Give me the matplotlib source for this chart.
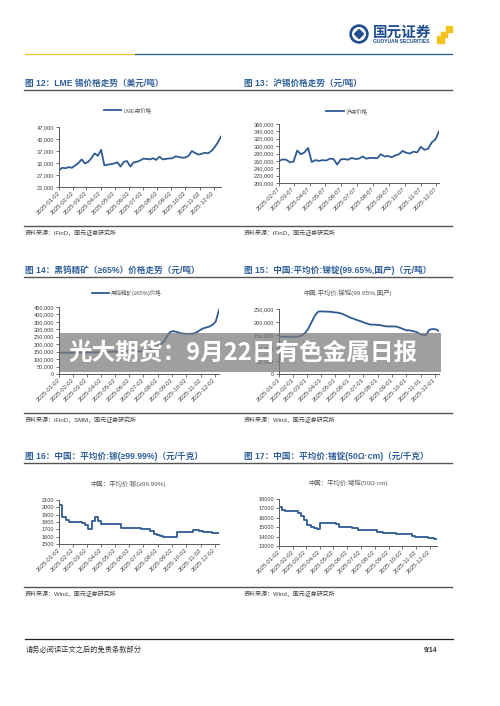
import numpy as np
import pandas as pd
import matplotlib
matplotlib.use('Agg')
import matplotlib.pyplot as plt
import matplotlib.dates as mdates
from matplotlib.ticker import FuncFormatter
from matplotlib.patches import Rectangle, Circle, Polygon

plt.rcParams['font.family'] = ['Liberation Sans', 'Noto Sans CJK SC', 'DejaVu Sans']

W, H = 500, 706
LINE = '#2e5b92'
TITLE = '#30609a'
GREY = '#595959'

# ---- data (weekly readings) ----
lme_tin = [29000, 30000, 29800, 30300, 30000, 31000, 32000, 33500, 31800, 32500,
           34000, 36000, 35000, 37500, 31000, 31300, 31500, 31800, 32300, 30500,
           32500, 32800, 30500, 32200, 32500, 33000, 33800, 33700, 33500, 34000,
           33300, 34600, 33500, 33700, 33900, 34000, 34800, 34500, 34200, 34300,
           35000, 37000, 36200, 35500, 35800, 36300, 36000, 37000, 38500, 40500,
           43000]
shfe_tin = [260000, 264000, 263000, 256000, 258000, 288000, 278000, 283000, 295000, 257000,
            262000, 260000, 262000, 261000, 266000, 265000, 250000, 264000, 265000, 263000,
            268000, 265000, 266000, 272000, 266000, 268000, 268000, 267000, 278000, 272000,
            273000, 270000, 275000, 278000, 287000, 282000, 280000, 285000, 283000, 298000,
            290000, 293000, 310000, 318000, 340000]
tungsten = [143000, 143000, 143000, 143000, 143000, 143000, 143500, 144000, 144000, 145000,
            145000, 146000, 146000, 147000, 148000, 148000, 149000, 150000, 150000, 151000,
            151000, 152000, 152000, 152000, 152000, 152000, 153000, 156000, 162000, 172000,
            185000, 198000, 215000, 250000, 282000, 288000, 283000, 275000, 272000, 270000,
            270000, 271000, 278000, 292000, 305000, 312000, 318000, 330000, 352000, 430000]
antimony = [143000, 143000, 143000, 143000, 143000, 143000, 144000, 148000, 158000, 175000,
            200000, 225000, 240000, 241000, 240000, 240000, 239000, 237000, 236000, 233000,
            228000, 222000, 216000, 212000, 207000, 203000, 198000, 194000, 190000, 190000,
            189000, 188000, 185000, 183000, 183000, 183000, 182000, 178000, 173000, 168000,
            168000, 165000, 162000, 155000, 150000, 150000, 170000, 173000, 172000, 165000]
gallium = [2030, 1870, 1830, 1800, 1800, 1800, 1800, 1780, 1760, 1700,
           1810, 1870, 1820, 1775, 1775, 1775, 1775, 1775, 1775, 1725,
           1725, 1725, 1725, 1725, 1725, 1710, 1700, 1700, 1680, 1640,
           1625, 1605, 1600, 1600, 1600, 1600, 1660, 1660, 1660, 1660,
           1660, 1690, 1690, 1680, 1660, 1660, 1660, 1650, 1650, 1650]
germanium = [17200, 16800, 16750, 16750, 16750, 16750, 16500, 16200, 15800, 15200,
             15000, 14900, 14850, 15400, 15400, 15400, 15400, 15400, 15300, 15050,
             15000, 15000, 15000, 14900, 14900, 14750, 14750, 14750, 14750, 14750,
             14750, 14500, 14500, 14400, 14400, 14400, 14400, 14280, 14280, 14280,
             14280, 14280, 14100, 14000, 14000, 14000, 13950, 13900, 13850, 13750,
             13700]

fig = plt.figure(figsize=(W / 100, H / 100), dpi=100)
fig.patch.set_facecolor('white')


def comma(v, p):
    return f'{v:,.0f}'


def chart(l, t, r, b, start, vals, ylo, yhi, ystep, ticks, fmt=comma, step=False):
    ax = fig.add_axes([l / W, 1 - b / H, (r - l) / W, (b - t) / H])
    dates = pd.date_range(start, periods=len(vals), freq='7D')
    ax.plot(dates, vals, color=LINE, lw=1.3, drawstyle='steps-post' if step else 'default')
    ax.set_xlim(dates[0], dates[-1])
    ax.set_ylim(ylo, yhi)
    ax.set_yticks(np.arange(ylo, yhi + 1, ystep))
    ax.yaxis.set_major_formatter(FuncFormatter(fmt))
    ax.set_xticks(ticks)
    ax.xaxis.set_major_formatter(mdates.DateFormatter('%Y-%m-%d'))
    for s in ['top', 'right']:
        ax.spines[s].set_visible(False)
    for s in ['left', 'bottom']:
        ax.spines[s].set_color(GREY)
        ax.spines[s].set_linewidth(0.7)
    ax.tick_params(length=2, width=0.6, color=GREY, labelsize=4.1, labelcolor='#404040', pad=1.5)
    ax.tick_params(axis='x', labelsize=4.3, pad=2)
    plt.setp(ax.get_xticklabels(), rotation=45, ha='right', va='center', rotation_mode='anchor')
    ax.patch.set_alpha(0)
    return ax


ticks_02 = pd.date_range('2025-01-01', '2025-12-01', freq='MS') + pd.Timedelta(days=1)
ticks_07 = pd.date_range('2025-02-01', '2025-12-01', freq='MS') + pd.Timedelta(days=6)
ticks_01 = pd.date_range('2025-01-01', '2025-12-01', freq='MS')

chart(59, 127, 221, 187, '2025-01-02', lme_tin, 22000, 47000, 5000, ticks_02)
chart(279, 124, 439, 183, '2025-02-07', shfe_tin, 200000, 360000, 20000, ticks_07)
chart(59, 307, 219, 374, '2025-01-02', tungsten, 0, 450000, 50000, ticks_02)
chart(279, 309, 439, 374, '2025-01-01', antimony, 0, 250000, 50000, ticks_01)
chart(59, 500, 219, 544, '2025-01-02', gallium, 1500, 2100, 100, ticks_02,
      fmt=lambda v, p: f'{v:.0f}', step=True)
chart(279, 499, 437, 546, '2025-01-02', germanium, 13000, 18000, 1000, ticks_02,
      fmt=lambda v, p: f'{v:.0f}', step=True)

# ---- page decorations in pixel coordinates ----
ov = fig.add_axes([0, 0, 1, 1], zorder=10)
ov.set_xlim(0, W)
ov.set_ylim(H, 0)
ov.axis('off')
ov.patch.set_alpha(0)

# header logo
ov.add_patch(Circle((359, 34), 9, color='#1f4e8c'))
ov.add_patch(Circle((359, 34), 6.3, color='white'))
ov.add_patch(Polygon([(359, 29.5), (363.5, 34), (359, 38.5), (354.5, 34)], color='#1f4e8c'))
ov.text(373, 32, '国元证券', fontsize=10.5, fontweight='bold', color='#1f4e8c',
        va='center', ha='left', family=['Noto Sans CJK SC', 'DejaVu Sans'])
ov.text(373, 41.2, 'GUOYUAN SECURITIES', fontsize=3.6, fontweight='bold', color='#1f4e8c',
        va='center', ha='left')
for x0, y0, w, h in [(446, 26, 6, 6), (441, 31.5, 6, 5.5), (436.5, 36, 7, 7)]:
    ov.add_patch(Rectangle((x0, y0), w, h, color='#f3c21b'))

ov.plot([25, 135], [54, 54], color='#f2c12e', lw=0.9)
ov.plot([135, 452], [54, 54], color='#2a5a94', lw=0.9)

# figure titles, rules, legends, sources
titles = [(25, 83, '图 12：LME 锡价格走势（美元/吨）'),
          (244, 83, '图 13：沪锡价格走势（元/吨）'),
          (25, 270, '图 14：黑钨精矿（≥65%）价格走势（元/吨）'),
          (244, 270, '图 15：中国:平均价:锑锭(99.65%,国产)（元/吨）'),
          (25, 456, '图 16：中国：平均价:镓(≥99.99%)（元/千克）'),
          (244, 456, '图 17：中国：平均价:锗锭(50Ω·cm)（元/千克）')]
for x, y, s in titles:
    ov.text(x, y, s, fontsize=6.2, fontweight='bold', color=TITLE, va='center', ha='left')

for y in [90, 277, 463]:
    ov.plot([24, 452], [y, y], color='#555555', lw=1.0)
for y in [226, 412.5, 587]:
    ov.plot([24, 452], [y, y], color='#555555', lw=1.0)

sources = [(25, 233, '资料来源：iFinD，国元证券研究所'),
           (244, 233, '资料来源：iFinD，国元证券研究所'),
           (25, 419.5, '资料来源：iFinD，SMM，国元证券研究所'),
           (244, 419.5, '资料来源：Wind，国元证券研究所'),
           (25, 594, '资料来源：Wind，国元证券研究所'),
           (244, 594, '资料来源：Wind，国元证券研究所')]
for x, y, s in sources:
    ov.text(x, y, s, fontsize=4.3, color='#404040', va='center', ha='left')

legends = [(104, 121, 110, 'LME锡价格'),
           (326, 344, 111, '沪锡价格'),
           (92, 109, 293, '黑钨精矿(≥65%)价格')]
for x0, x1, y, s in legends:
    ov.plot([x0, x1], [y, y], color=LINE, lw=1.3)
    ov.text(x1 + 2, y, s, fontsize=4, color=GREY, va='center', ha='left')

inner = [(348, 293, '中国:平均价:锑锭(99.65%,国产)'),
         (128, 484, '中国：平均价:镓(≥99.99%)'),
         (348, 483, '中国：平均价:锗锭(50Ω·cm)')]
for x, y, s in inner:
    ov.text(x, y, s, fontsize=4.6, color=GREY, va='center', ha='center')

# footer
ov.plot([25, 453], [638.5, 638.5], color='#222222', lw=0.9)
ov.text(26, 650, '请务必阅读正文之后的免责条款部分', fontsize=5.2, color='#333333', va='center', ha='left')
ov.text(437, 650, '9/14', fontsize=5, fontweight='bold', color='#333333', va='center', ha='right')

# overlay banner
ov.add_patch(Rectangle((60, 333), 381, 39, facecolor='#7a7a7a', alpha=0.72, lw=0))
ov.text(68, 353, '光大期货：9月22日有色金属日报', fontsize=17, fontweight='bold', color='white',
        va='center', ha='left', family=['Noto Sans CJK SC', 'DejaVu Sans'])

fig.savefig('out.png', dpi=100)
